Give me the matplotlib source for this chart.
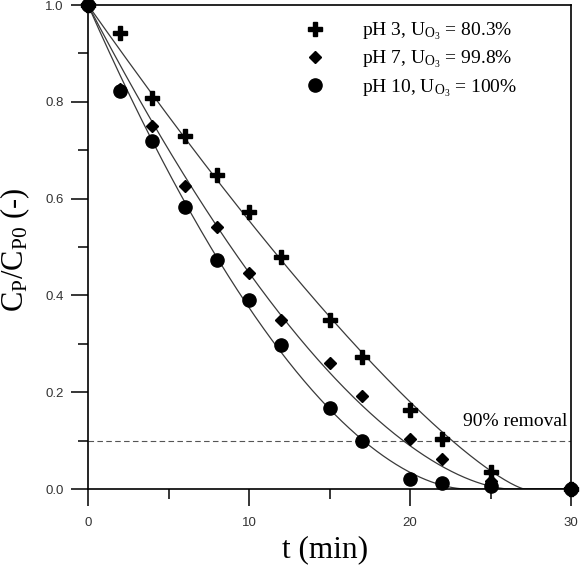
import numpy as np
import matplotlib
matplotlib.use('Agg')
import matplotlib.pyplot as plt

# sampling times (min)
t = np.array([0, 2, 4, 6, 8, 10, 12, 15, 17, 20, 22, 25, 30])

# C_P / C_P0
ph3 = np.array([1.0, 0.942, 0.808, 0.730, 0.648, 0.572, 0.479, 0.350, 0.273, 0.163, 0.104, 0.035, 0.0])
ph7 = np.array([1.0, 0.826, 0.750, 0.627, 0.541, 0.447, 0.349, 0.260, 0.192, 0.103, 0.061, 0.016, 0.0])
ph10 = np.array([1.0, 0.822, 0.718, 0.583, 0.473, 0.390, 0.297, 0.167, 0.100, 0.020, 0.012, 0.006, 0.0])

# time where each fitted curve reaches zero
t_end = [27.1, 26.2, 23.5]

labels = [r'pH 3, $\mathrm{U_{O_3}}$ = 80.3%',
          r'pH 7, $\mathrm{U_{O_3}}$ = 99.8%',
          r'pH 10, $\mathrm{U_{O_3}}$ = 100%']
removal_level = 0.1


# y = (1 - t/T)^n, zero after T
def model(x, T, n):
    return np.clip(1 - x / T, 0, None) ** n


def fit_n(x, y, T):
    ns = np.arange(0.8, 3.0, 0.005)
    pred = model(x, T, ns[:, None])
    err = ((pred - y[None, :]) ** 2).sum(axis=1)
    return ns[np.argmin(err)]


plt.rcParams['mathtext.fontset'] = 'custom'
plt.rcParams['mathtext.rm'] = 'Liberation Serif'
plt.rcParams['mathtext.it'] = 'Liberation Serif:italic'

fig = plt.figure(figsize=(5.8, 5.73), dpi=100)
ax = fig.add_axes([88 / 580, 1 - 489 / 573, 483 / 580, 484 / 573])

tt = np.linspace(0, 30, 600)
for y, T in zip((ph3, ph7, ph10), t_end):
    n = fit_n(t, y, T)
    ax.plot(tt, model(tt, T, n), color='#3a3a3a', lw=0.9, zorder=2)

ax.axhline(removal_level, color='#555555', lw=0.8, ls=(0, (5, 3)), zorder=1)
ax.text(29.75, 0.14, '90% removal', ha='right', va='center',
        family='Liberation Serif', fontsize=14)

h1, = ax.plot(t, ph3, 'P', color='black', ms=9.5, ls='none', label=labels[0], zorder=4, clip_on=False)
h2, = ax.plot(t, ph7, 'D', color='black', ms=6.5, ls='none', label=labels[1], zorder=4, clip_on=False)
h3, = ax.plot(t, ph10, 'o', color='black', ms=9.5, ls='none', label=labels[2], zorder=3, clip_on=False)

leg = ax.legend(handles=[h1, h2, h3], loc='upper left', bbox_to_anchor=(0.45, 0.968),
                frameon=False, prop={'family': 'Liberation Serif', 'size': 14},
                handlelength=1.0, handletextpad=1.9, labelspacing=0.35, borderpad=0,
                borderaxespad=0)

ax.set_xlim(0, 30)
ax.set_ylim(0, 1.0)
ax.set_xticks([0, 10, 20, 30])
ax.set_xticks([5, 15, 25], minor=True)
ax.set_yticks([0, 0.2, 0.4, 0.6, 0.8, 1.0])
ax.set_yticks([0.1, 0.3, 0.5, 0.7, 0.9], minor=True)
ax.set_yticklabels(['0.0', '0.2', '0.4', '0.6', '0.8', '1.0'])
ax.tick_params(which='major', direction='out', length=12, width=1.1,
               labelsize=9.5, labelcolor='#333333', labelfontfamily='Liberation Sans')
ax.tick_params(axis='x', which='major', pad=8)
ax.tick_params(axis='y', which='major', pad=5.5)
ax.tick_params(which='minor', direction='out', length=7, width=1.1)
for s in ax.spines.values():
    s.set_linewidth(1.2)

ax.set_xlabel('t (min)', family='Liberation Serif', fontsize=22.5)
ax.set_ylabel(r'$\mathrm{C_P/C_{P0}}$ (-)', family='Liberation Serif', fontsize=22)
ax.xaxis.set_label_coords(0.49, -0.095)
ax.yaxis.set_label_coords(-0.115, 0.494)

fig.savefig('out.png', dpi=100)
